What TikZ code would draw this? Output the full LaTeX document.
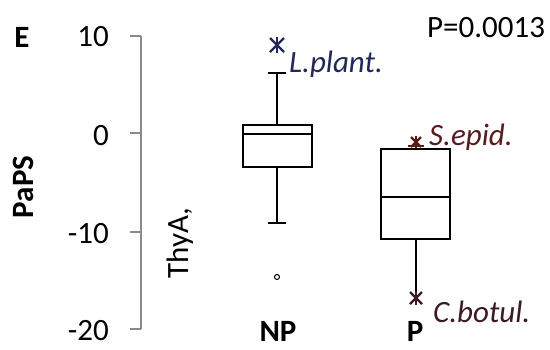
\documentclass[tikz,border=0pt]{standalone}
\usepackage{fontspec}
\setmainfont{Carlito}
\definecolor{navy}{HTML}{23285A}
\definecolor{maroon}{HTML}{5A1A1E}
\definecolor{darkm}{HTML}{3A1A26}
\definecolor{axisgray}{HTML}{8A8A8A}
\begin{document}
\begin{tikzpicture}[x=1pt,y=-1pt,
  txt/.style={inner sep=0pt, font=\fontsize{31}{34}\selectfont},
  btxt/.style={inner sep=0pt, font=\fontsize{31}{34}\selectfont\bfseries},
  itxt/.style={inner sep=0pt, font=\fontsize{31}{34}\selectfont\itshape},
  boxline/.style={draw=black, line width=2.2pt},
  axisline/.style={draw=axisgray, line width=1.6pt},
  starmark/.style={line width=2.2pt}]
\useasboundingbox (0,0) rectangle (550,349);
\fill[white] (0,0) rectangle (550,349);
% axis
\coordinate (atop) at (141,36);
\coordinate (abot) at (141,329);
\draw[axisline] (atop) -- (abot);
\foreach \y/\n in {36/t1,133/t2,232/t3,329/t4}{
  \coordinate (\n a) at (130,\y);
  \coordinate (\n b) at (141,\y);
  \draw[axisline] (\n a) -- (\n b);
}
\node[txt, anchor=east] (l10) at (109,37) {10};
\node[txt, anchor=east] (l0) at (109,136) {0};
\node[txt, anchor=east] (lm10) at (109,234) {-10};
\node[txt, anchor=east] (lm20) at (109,331) {-20};
% titles
\node[btxt] (E) at (22,37) {E};
\node[btxt, rotate=90] (paps) at (23,187) {PaPS};
\node[txt, rotate=90] (thya) at (180,243) {ThyA,};
\node[txt, anchor=base west] (pval) at (427,37) {P=0.0013};
\node[btxt] (np) at (278,331) {NP};
\node[btxt] (p) at (415,331) {P};
% NP box
\coordinate (npTL) at (243,125);
\coordinate (npBR) at (312,167);
\draw[boxline] (npTL) rectangle (npBR);
\coordinate (npM1) at (243,134); \coordinate (npM2) at (312,134);
\draw[boxline] (npM1) -- (npM2);
\coordinate (npUT) at (277,125); \coordinate (npUC) at (277,73);
\draw[boxline] (npUT) -- (npUC);
\coordinate (npUC1) at (268,73); \coordinate (npUC2) at (286,73);
\draw[boxline] (npUC1) -- (npUC2);
\coordinate (npLB) at (277,167); \coordinate (npLC) at (277,223);
\draw[boxline] (npLB) -- (npLC);
\coordinate (npLC1) at (268,223); \coordinate (npLC2) at (286,223);
\draw[boxline] (npLC1) -- (npLC2);
\node[draw=black, line width=1pt, circle, inner sep=0pt, minimum size=5pt] (out) at (277,277) {};
% P box
\coordinate (pTL) at (381,149);
\coordinate (pBR) at (450,239);
\draw[boxline] (pTL) rectangle (pBR);
\coordinate (pM1) at (381,197); \coordinate (pM2) at (450,197);
\draw[boxline] (pM1) -- (pM2);
\coordinate (pUT) at (416,149); \coordinate (pUC) at (416,146);
\draw[boxline] (pUT) -- (pUC);
\coordinate (pUC1) at (408,146); \coordinate (pUC2) at (424,146);
\draw[boxline, maroon] (pUC1) -- (pUC2);
\coordinate (pLB) at (416,239); \coordinate (pLC) at (416,298);
\draw[boxline] (pLB) -- (pLC);
% stars
\foreach \cx/\cy/\c/\s in {277/45/navy/7, 416/142/maroon/5, 416/298/darkm/6}{
  \draw[starmark, \c] (\cx-\s,\cy-\s) -- (\cx+\s,\cy+\s);
  \draw[starmark, \c] (\cx-\s,\cy+\s) -- (\cx+\s,\cy-\s);
  \draw[starmark, \c] (\cx,\cy-\s-1) -- (\cx,\cy+\s+1);
}
% labels
\node[itxt, text=navy, anchor=base west] (lplant) at (289,72) {L.plant.};
\node[itxt, text=maroon, anchor=base west] (sepid) at (429,145) {S.epid.};
\node[itxt, text=darkm, anchor=base west] (cbotul) at (433,322) {C.botul.};
\end{tikzpicture}
\end{document}
